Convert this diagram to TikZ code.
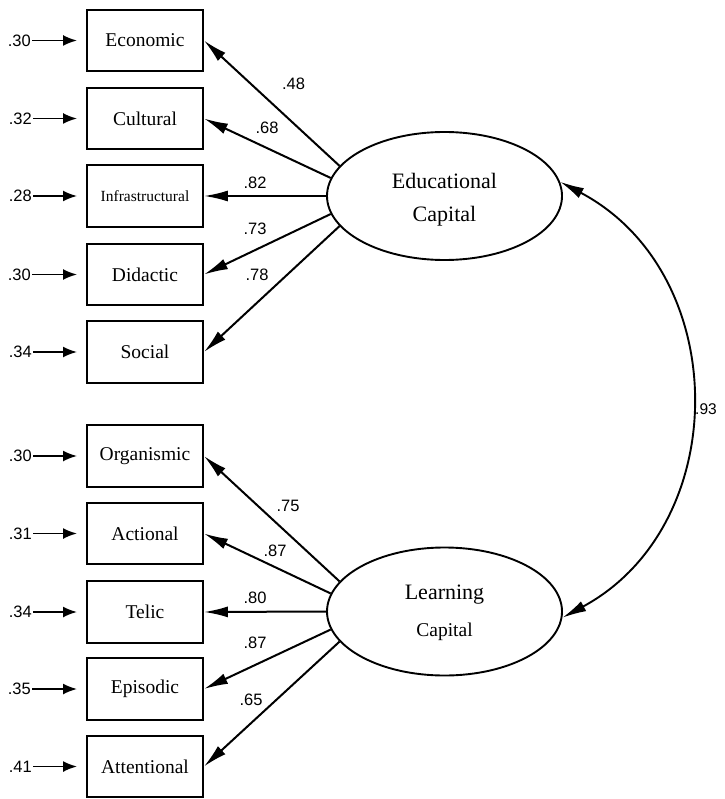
\documentclass[tikz,border=0pt]{standalone}
\usepackage{fontspec}
\setmainfont{Liberation Serif}
\newfontfamily\numfont{Liberation Sans}
\usetikzlibrary{arrows.meta,shapes.geometric}
\begin{document}
\begin{tikzpicture}[x=1pt,y=-1pt,
  obs/.style={draw,line width=1.9pt,minimum width=116pt,minimum height=61.5pt,inner sep=0pt,font=\fontsize{19.5}{22}\selectfont},
  lat/.style={draw,ellipse,line width=1.9pt,minimum width=235pt,minimum height=128pt,inner sep=0pt,align=center},
  errlab/.style={anchor=east,inner sep=1pt,font=\numfont\fontsize{16.5}{18}\selectfont},
  loadlab/.style={inner sep=0pt,font=\numfont\fontsize{16.5}{18}\selectfont},
  errarrow/.style={-{Latex[length=14pt,width=11pt]},line width=1.9pt,shorten >=9pt},
  loadarrow/.style={-{Latex[length=24pt,width=11pt]},line width=2pt},
  covarrow/.style={{Latex[length=24pt,width=11pt]}-{Latex[length=24pt,width=11pt]},line width=1.9pt},
]
\useasboundingbox (0,0) rectangle (724,799);

% observed variables
\node[obs] (eco) at (145,40.5) {Economic};
\node[obs] (cul) at (145,118.5) {Cultural};
\node[obs,font=\fontsize{15.5}{17}\selectfont] (inf) at (145,196) {Infrastructural};
\node[obs] (did) at (145,274.5) {Didactic};
\node[obs] (soc) at (145,352) {Social};
\node[obs] (org) at (145,456) {Organismic};
\node[obs] (act) at (145,533.5) {Actional};
\node[obs] (tel) at (145,612) {Telic};
\node[obs] (epi) at (145,689) {Episodic};
\node[obs] (att) at (145,766.5) {Attentional};

% error terms
\node[errlab] (e1) at (32,40.5) {.30};
\node[errlab] (e2) at (33,118.5) {.32};
\node[errlab] (e3) at (33,196) {.28};
\node[errlab] (e4) at (32,274.5) {.30};
\node[errlab] (e5) at (33,352) {.34};
\node[errlab] (e6) at (33,456) {.30};
\node[errlab] (e7) at (33,533.5) {.31};
\node[errlab] (e8) at (33,612) {.34};
\node[errlab] (e9) at (32,689) {.35};
\node[errlab] (e10) at (33,766.5) {.41};
\draw[errarrow] (e1.east) -- (eco.west);
\draw[errarrow] (e2.east) -- (cul.west);
\draw[errarrow] (e3.east) -- (inf.west);
\draw[errarrow] (e4.east) -- (did.west);
\draw[errarrow] (e5.east) -- (soc.west);
\draw[errarrow] (e6.east) -- (org.west);
\draw[errarrow] (e7.east) -- (act.west);
\draw[errarrow] (e8.east) -- (tel.west);
\draw[errarrow] (e9.east) -- (epi.west);
\draw[errarrow] (e10.east) -- (att.west);

% latent variables
\node[lat,font=\fontsize{22}{33}\selectfont] (ec) at (444.5,196) {\rule{0pt}{23pt}Educational\\Capital};
\node[lat,font=\fontsize{22}{35}\selectfont] (lc) at (444.5,611.5) {\rule{0pt}{18pt}Learning\\[2pt]{\fontsize{19.5}{35}\selectfont Capital}};

% loadings
\draw[loadarrow] (ec.164) -- (eco.east);
\draw[loadarrow] (ec.171) -- (cul.east);
\draw[loadarrow] (ec.180) -- (inf.east);
\draw[loadarrow] (ec.189) -- (did.east);
\draw[loadarrow] (ec.196) -- (soc.east);
\draw[loadarrow] (lc.164) -- (org.east);
\draw[loadarrow] (lc.171) -- (act.east);
\draw[loadarrow] (lc.180) -- (tel.east);
\draw[loadarrow] (lc.189) -- (epi.east);
\draw[loadarrow] (lc.196) -- (att.east);

\node[loadlab] (l1) at (293.5,84) {.48};
\node[loadlab] (l2) at (267,128) {.68};
\node[loadlab] (l3) at (255,183) {.82};
\node[loadlab] (l4) at (255,229) {.73};
\node[loadlab] (l5) at (257,275) {.78};
\node[loadlab] (l6) at (288,506) {.75};
\node[loadlab] (l7) at (275,551) {.87};
\node[loadlab] (l8) at (255,598) {.80};
\node[loadlab] (l9) at (255,643) {.87};
\node[loadlab] (l10) at (251,700) {.65};

% covariance
\draw[covarrow] (ec.7) .. controls (733,273.3) and (733,525.7) .. (lc.-3);
\node[loadlab,anchor=west,font=\numfont\fontsize{15.5}{17}\selectfont] (cov) at (695,409) {.93};
\end{tikzpicture}
\end{document}
